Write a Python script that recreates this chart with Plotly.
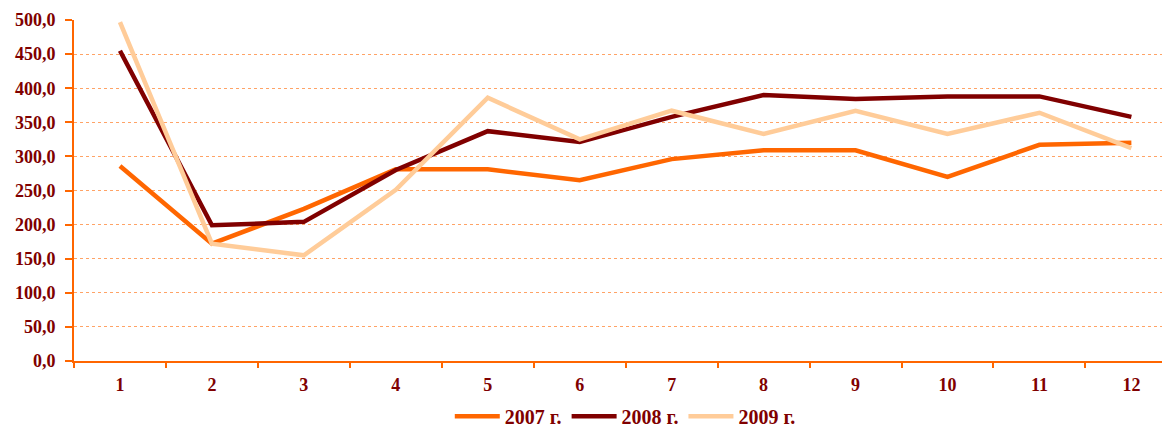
import plotly.graph_objects as go

months = ["1", "2", "3", "4", "5", "6", "7", "8", "9", "10", "11", "12"]
y2007 = [286, 172, 223, 281, 281, 265, 296, 309, 309, 270, 317, 320]
y2008 = [455, 199, 204, 280, 337, 321, 358, 390, 384, 388, 388, 358]
y2009 = [497, 172, 155, 251, 386, 325, 367, 333, 367, 333, 364, 312]
series_names = ["2007 г.", "2008 г.", "2009 г."]
colors = ["#FF6600", "#800000", "#FFCC99"]

fig = go.Figure()
for name, vals, c in zip(series_names, [y2007, y2008, y2009], colors):
    fig.add_trace(go.Scatter(x=months, y=vals, mode="lines", name=name,
                             line=dict(color=c, width=4.5)))

tick_font = dict(family="Liberation Serif", size=18, color="#800000", weight="bold")
legend_font = dict(family="Liberation Serif", size=20, color="#800000", weight="bold")

fig.update_layout(
    width=1162, height=428,
    margin=dict(l=66, r=0, t=12, b=75, autoexpand=False),
    paper_bgcolor="white", plot_bgcolor="white",
    separators=",.",
    font=tick_font,
    showlegend=True,
    legend=dict(orientation="h", x=0.503, xanchor="center", y=-0.105, yanchor="top",
                font=legend_font, itemwidth=45, tracegroupgap=0),
    xaxis=dict(type="category", range=[-0.5, 11.42], tickson="boundaries",
               showline=True, linecolor="#FF6600", linewidth=2,
               ticks="outside", ticklen=5, tickcolor="#FF6600", tickwidth=2,
               showgrid=False, zeroline=False, automargin=False,
               tickfont=tick_font, ticklabelstandoff=6),
    yaxis=dict(range=[0, 500], dtick=50, tickformat=".1f",
               showline=True, linecolor="#FF6600", linewidth=2,
               ticks="outside", ticklen=7, tickcolor="#FF6600", tickwidth=2,
               showgrid=True, gridcolor="#FFA366", griddash="dot", gridwidth=1,
               zeroline=False, automargin=False,
               tickfont=tick_font, ticklabelstandoff=6),
)

fig.write_html("out.html")
